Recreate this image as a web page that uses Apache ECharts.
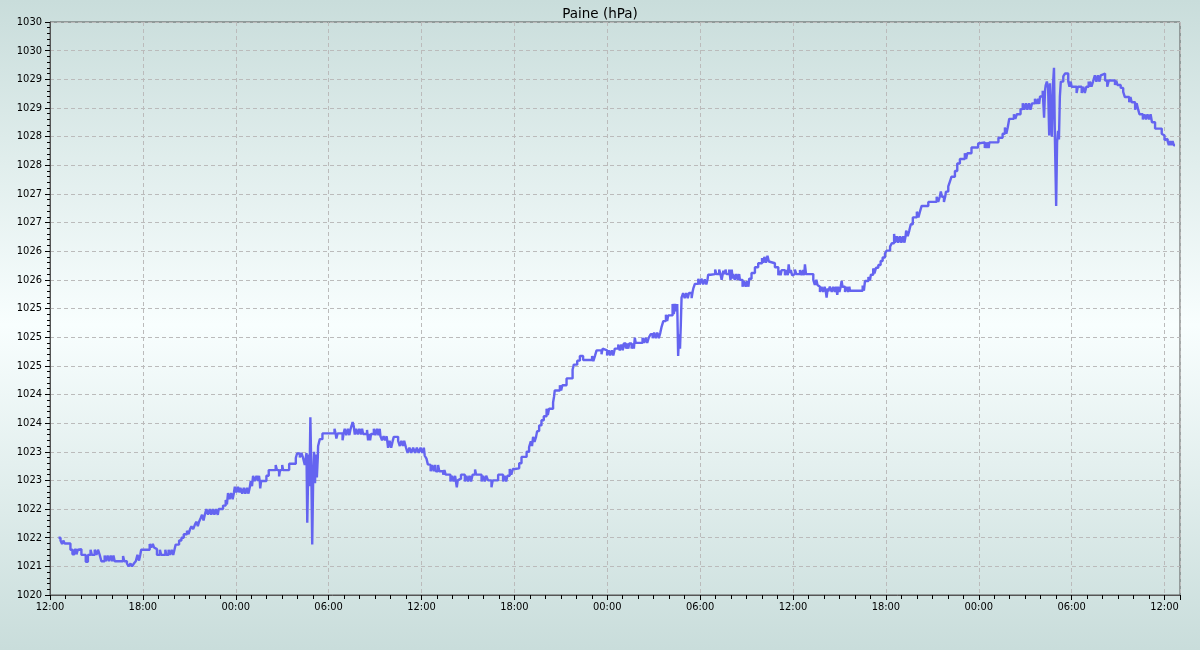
<!DOCTYPE html>
<html>
<head>
<meta charset="utf-8">
<script src="https://cdn.jsdelivr.net/npm/echarts@6/dist/echarts.min.js"></script>
<style>
html,body{margin:0;padding:0;}
#chart{width:1200px;height:650px;background:linear-gradient(to bottom,#c9dddb 0%,#f8fefe 50%,#c9dddb 100%);}
</style>
</head>
<body>
<div id="chart"></div>
<script>
// Tick labels as printed in the reference
const xTickLabels = ['12:00','18:00','00:00','06:00','12:00','18:00','00:00','06:00','12:00','18:00','00:00','06:00','12:00'];
const yTickLabels = ['1020','1021','1022','1022','1023','1023','1024','1024','1025','1025','1025','1026','1026','1027','1027','1028','1028','1029','1029','1030','1030'];

// Pressure readings: [hours since first 12:00, hPa]
const pressureReadings = [
[0.55,1021.00],[0.68,1020.95],[0.78,1020.89],[0.86,1020.95],[0.95,1020.90],
[1.32,1020.79],[1.45,1020.71],[1.58,1020.79],[1.71,1020.71],[1.80,1020.79],
[1.87,1020.80],
[2.03,1020.70],[2.31,1020.58],[2.45,1020.70],[2.62,1020.79],[2.70,1020.70],[2.89,1020.79],[3.00,1020.70],[3.10,1020.79],[3.21,1020.70],
[3.32,1020.59],[3.53,1020.69],[3.62,1020.59],[3.72,1020.69],[3.82,1020.59],[3.92,1020.69],[4.02,1020.59],[4.10,1020.69],[4.18,1020.59],[4.72,1020.68],[4.80,1020.59],
[4.97,1020.55],[5.08,1020.50],[5.20,1020.55],[5.30,1020.50],[5.42,1020.55],
[5.54,1020.59],[5.65,1020.70],[5.75,1020.60],[5.83,1020.70],
[5.89,1020.79],
[6.44,1020.89],[6.54,1020.83],[6.64,1020.89],[6.72,1020.83],
[6.77,1020.80],
[6.91,1020.70],[7.10,1020.79],[7.18,1020.70],[7.45,1020.79],[7.52,1020.70],[7.66,1020.79],[7.76,1020.70],[7.86,1020.79],[7.96,1020.70],[8.04,1020.79],
[8.12,1020.88],[8.34,1020.95],[8.49,1021.00],
[8.64,1021.06],[8.85,1021.12],[8.95,1021.06],[9.05,1021.15],[9.14,1021.20],[9.25,1021.15],[9.35,1021.22],[9.45,1021.28],[9.55,1021.20],[9.63,1021.28],[9.73,1021.34],[9.82,1021.40],[9.92,1021.30],[10.00,1021.40],
[10.10,1021.50],[10.21,1021.40],[10.32,1021.50],[10.42,1021.40],[10.52,1021.50],[10.62,1021.40],[10.72,1021.50],[10.84,1021.40],[10.90,1021.50],
[11.18,1021.56],[11.35,1021.66],[11.43,1021.58],
[11.50,1021.78],[11.60,1021.67],[11.70,1021.78],[11.80,1021.67],[11.88,1021.78],
[11.94,1021.89],[12.04,1021.79],[12.14,1021.89],[12.24,1021.79],
[12.30,1021.87],[12.42,1021.77],[12.52,1021.87],[12.62,1021.77],[12.72,1021.87],[12.82,1021.77],[12.90,1021.87],
[12.97,1021.99],[13.05,1021.90],[13.12,1022.08],[13.22,1021.99],[13.34,1022.08],[13.44,1021.99],[13.50,1022.08],
[13.55,1021.99],[13.58,1021.86],[13.64,1021.99],
[13.98,1022.08],
[14.13,1022.18],[14.58,1022.27],[14.66,1022.18],[14.80,1022.07],[14.86,1022.18],[15.00,1022.27],[15.06,1022.18],
[15.45,1022.29],[15.88,1022.39],[15.96,1022.47],
[16.14,1022.40],[16.24,1022.48],[16.34,1022.40],[16.46,1022.27],[16.57,1022.48],
[16.62,1021.26],[16.70,1022.45],[16.76,1021.90],[16.82,1023.10],[16.88,1022.20],[16.94,1020.88],[17.00,1022.00],[17.06,1022.50],[17.12,1021.95],[17.18,1022.45],[17.24,1022.05],[17.30,1022.40],
[17.32,1022.60],[17.43,1022.72],[17.60,1022.82],
[18.38,1022.90],[18.45,1022.82],[18.50,1022.73],[18.58,1022.82],
[18.90,1022.70],[18.97,1022.82],
[19.04,1022.90],[19.14,1022.79],[19.24,1022.90],[19.34,1022.79],[19.42,1022.90],
[19.48,1022.95],[19.55,1023.02],[19.62,1022.95],
[19.69,1022.80],[19.78,1022.90],[19.88,1022.80],[19.98,1022.90],[20.08,1022.80],[20.16,1022.90],
[20.23,1022.81],[20.48,1022.88],[20.55,1022.70],[20.61,1022.81],[20.68,1022.70],[20.74,1022.81],
[20.92,1022.90],[21.02,1022.79],[21.12,1022.90],[21.22,1022.79],[21.30,1022.90],
[21.35,1022.77],[21.45,1022.70],[21.55,1022.77],[21.65,1022.70],[21.75,1022.77],
[21.84,1022.57],[21.94,1022.69],[22.04,1022.57],[22.14,1022.69],
[22.21,1022.76],
[22.49,1022.69],[22.60,1022.60],[22.70,1022.69],[22.80,1022.60],[22.88,1022.69],
[23.00,1022.57],[23.10,1022.48],[23.22,1022.57],[23.34,1022.48],[23.46,1022.57],[23.58,1022.48],[23.70,1022.57],[23.82,1022.48],[23.94,1022.57],[24.05,1022.48],[24.15,1022.57],
[24.21,1022.43],[24.32,1022.38],[24.41,1022.28],
[24.49,1022.27],[24.59,1022.16],[24.69,1022.27],[24.79,1022.16],[24.88,1022.27],
[24.92,1022.16],[25.07,1022.27],[25.15,1022.16],
[25.40,1022.10],[25.48,1022.18],[25.56,1022.10],
[25.87,1021.98],[25.97,1022.08],[26.07,1021.98],[26.17,1022.08],[26.28,1021.88],[26.34,1022.00],
[26.37,1022.03],[26.55,1022.10],
[26.80,1021.98],[26.90,1022.08],[27.00,1021.98],[27.10,1022.08],[27.20,1021.98],
[27.30,1022.10],[27.46,1022.19],[27.53,1022.10],
[27.88,1021.98],[27.98,1022.08],[28.08,1021.98],[28.18,1022.08],
[28.30,1022.00],[28.52,1021.88],[28.60,1022.00],
[28.95,1022.10],
[29.27,1021.98],[29.37,1022.08],[29.47,1021.98],[29.55,1022.08],
[29.70,1022.20],[29.80,1022.10],[29.90,1022.20],
[30.03,1022.21],[30.31,1022.30],[30.46,1022.41],[30.79,1022.50],[30.95,1022.58],
[31.06,1022.68],[31.14,1022.60],
[31.21,1022.76],[31.30,1022.67],[31.40,1022.76],
[31.47,1022.86],[31.60,1022.96],[31.75,1023.05],[31.90,1023.12],
[32.08,1023.25],[32.16,1023.14],[32.24,1023.25],
[32.50,1023.36],[32.56,1023.46],[32.61,1023.57],
[32.94,1023.66],[33.02,1023.57],[33.10,1023.66],
[33.37,1023.78],[33.76,1023.93],[33.84,1024.02],[34.06,1024.09],[34.23,1024.17],[34.44,1024.10],
[35.02,1024.17],[35.10,1024.08],[35.20,1024.17],
[35.31,1024.27],[35.63,1024.20],[35.70,1024.30],[35.78,1024.27],
[35.99,1024.18],[36.09,1024.27],[36.19,1024.18],[36.29,1024.27],[36.39,1024.18],
[36.49,1024.30],
[36.71,1024.37],[36.81,1024.27],[36.91,1024.37],[37.00,1024.27],
[37.07,1024.39],[37.20,1024.30],[37.28,1024.39],[37.36,1024.30],[37.42,1024.39],
[37.57,1024.30],[37.66,1024.39],[37.72,1024.30],
[37.78,1024.49],[37.84,1024.40],
[38.28,1024.49],[38.38,1024.40],[38.48,1024.49],[38.58,1024.40],[38.68,1024.49],
[38.80,1024.55],
[38.93,1024.48],[39.03,1024.58],[39.13,1024.48],[39.23,1024.58],[39.33,1024.48],[39.43,1024.58],
[39.51,1024.68],[39.62,1024.78],[39.79,1024.89],[39.87,1024.78],[39.94,1024.88],
[40.22,1025.08],[40.30,1024.90],[40.38,1025.08],[40.46,1024.95],[40.52,1025.08],
[40.58,1024.17],[40.64,1024.55],[40.70,1024.30],[40.75,1024.70],
[40.80,1025.19],
[40.90,1025.27],[41.00,1025.18],[41.10,1025.27],[41.20,1025.18],[41.28,1025.27],
[41.45,1025.18],[41.52,1025.30],
[41.56,1025.35],[41.66,1025.43],
[41.88,1025.52],[41.98,1025.42],[42.08,1025.52],
[42.20,1025.42],[42.30,1025.51],[42.40,1025.42],[42.48,1025.51],
[42.52,1025.59],
[42.68,1025.60],[42.97,1025.68],[43.05,1025.60],[43.23,1025.68],[43.31,1025.60],
[43.39,1025.50],[43.50,1025.66],[43.60,1025.60],[43.64,1025.68],[43.70,1025.60],
[43.88,1025.68],[43.96,1025.50],[44.04,1025.68],[44.10,1025.52],
[44.14,1025.60],[44.24,1025.50],[44.34,1025.60],[44.44,1025.50],[44.52,1025.60],
[44.57,1025.50],
[44.74,1025.38],[44.84,1025.48],[44.94,1025.38],[45.04,1025.48],[45.12,1025.38],
[45.17,1025.52],[45.32,1025.62],[45.54,1025.72],[45.75,1025.79],[46.00,1025.88],
[46.07,1025.80],[46.15,1025.90],[46.25,1025.80],[46.35,1025.92],[46.44,1025.82],
[46.50,1025.79],[46.83,1025.72],
[47.05,1025.58],[47.13,1025.66],[47.20,1025.58],
[47.26,1025.67],
[47.48,1025.58],[47.58,1025.67],[47.66,1025.58],[47.72,1025.77],[47.78,1025.62],[47.86,1025.67],[47.94,1025.58],
[48.01,1025.60],[48.12,1025.68],[48.22,1025.60],
[48.45,1025.67],[48.55,1025.58],[48.65,1025.67],[48.72,1025.58],
[48.77,1025.77],[48.84,1025.60],
[49.31,1025.50],[49.41,1025.41],[49.51,1025.50],[49.58,1025.41],
[49.63,1025.38],[49.74,1025.29],[49.84,1025.38],[49.94,1025.29],[50.04,1025.38],[50.12,1025.29],
[50.17,1025.19],[50.24,1025.35],
[50.28,1025.30],[50.38,1025.38],
[50.50,1025.29],[50.60,1025.38],[50.70,1025.29],[50.78,1025.38],
[50.86,1025.24],[50.92,1025.38],[51.00,1025.29],[51.08,1025.38],
[51.14,1025.48],[51.20,1025.38],
[51.36,1025.29],[51.46,1025.38],[51.56,1025.29],[51.64,1025.38],
[51.68,1025.31],
[52.50,1025.40],[52.58,1025.31],
[52.65,1025.48],[52.87,1025.55],
[52.97,1025.49],[53.03,1025.59],
[53.18,1025.70],[53.26,1025.61],[53.36,1025.71],[53.51,1025.76],[53.66,1025.83],[53.79,1025.89],[53.94,1025.96],[54.05,1026.01],[54.27,1026.08],[54.38,1026.14],
[54.53,1026.30],[54.60,1026.15],[54.70,1026.26],[54.80,1026.15],[54.90,1026.26],[55.00,1026.15],[55.10,1026.26],[55.20,1026.15],[55.27,1026.26],
[55.31,1026.36],[55.41,1026.26],[55.51,1026.36],
[55.61,1026.47],[55.74,1026.59],
[56.00,1026.69],[56.10,1026.59],[56.20,1026.69],
[56.31,1026.79],[56.74,1026.86],
[57.28,1026.95],[57.38,1026.86],[57.48,1026.95],[57.55,1027.04],[57.62,1026.95],
[57.75,1026.86],[57.83,1026.95],
[57.88,1027.04],[58.03,1027.13],[58.14,1027.22],[58.24,1027.30],[58.46,1027.40],[58.61,1027.53],[58.78,1027.61],
[59.10,1027.71],[59.18,1027.61],[59.26,1027.71],
[59.53,1027.81],[59.96,1027.88],[60.07,1027.90],
[60.39,1027.80],[60.46,1027.90],[60.50,1027.80],[60.58,1027.90],[60.64,1027.80],
[60.68,1027.90],
[61.27,1027.98],
[61.54,1028.05],
[61.69,1028.16],[61.78,1028.05],[61.87,1028.16],
[61.97,1028.31],
[62.27,1028.39],[62.36,1028.31],[62.46,1028.39],
[62.70,1028.48],
[62.84,1028.58],[62.94,1028.47],[63.04,1028.58],[63.14,1028.47],[63.24,1028.58],[63.34,1028.47],[63.44,1028.58],
[63.63,1028.66],[63.73,1028.57],[63.83,1028.66],[63.90,1028.57],
[63.96,1028.70],[64.13,1028.80],
[64.22,1028.33],[64.28,1028.80],
[64.32,1028.89],[64.40,1028.96],[64.48,1028.85],
[64.55,1028.02],[64.60,1028.93],[64.72,1028.00],[64.80,1028.93],[64.86,1029.20],[64.92,1027.95],[65.00,1026.79],[65.06,1027.90],[65.12,1028.10],[65.18,1027.95],[65.24,1028.70],[65.30,1028.96],
[65.46,1029.05],[65.57,1029.10],
[65.78,1028.96],[65.86,1028.87],[65.94,1028.96],
[66.00,1028.87],[66.32,1028.76],[66.40,1028.87],
[66.65,1028.76],[66.75,1028.87],[66.85,1028.76],[66.95,1028.87],
[67.10,1028.96],[67.16,1028.87],
[67.18,1028.96],[67.28,1028.87],[67.38,1028.96],
[67.50,1029.07],[67.60,1028.96],[67.70,1029.07],[67.80,1028.96],[67.88,1029.07],
[67.94,1029.10],
[68.16,1028.98],[68.30,1028.87],[68.40,1028.98],
[68.80,1028.90],[68.88,1028.98],[68.96,1028.90],
[69.17,1028.85],[69.33,1028.78],[69.44,1028.69],
[69.72,1028.60],[69.80,1028.69],[69.88,1028.60],
[70.10,1028.47],[70.20,1028.58],[70.30,1028.47],
[70.38,1028.39],
[70.60,1028.30],[70.70,1028.39],[70.80,1028.30],[70.90,1028.39],[71.00,1028.30],[71.10,1028.39],
[71.19,1028.25],[71.39,1028.14],[71.82,1028.05],
[71.93,1028.02],[72.00,1027.94],
[72.10,1027.96],
[72.20,1027.92],[72.28,1027.85],[72.36,1027.92],[72.44,1027.85],[72.52,1027.92],[72.60,1027.85],[72.68,1027.85]
];

const labelFont = '"DejaVu Sans Condensed", "DejaVu Sans", sans-serif';
const chart = echarts.init(document.getElementById('chart'), null, {renderer: 'canvas'});
chart.setOption({
  animation: false,
  backgroundColor: 'transparent',
  title: {
    text: 'Paine (hPa)',
    left: 'center',
    top: 2,
    textStyle: {fontFamily: 'DejaVu Sans', fontSize: 13.5, fontWeight: 'normal', color: '#000'}
  },
  grid: {
    left: 50, right: 20, top: 22, bottom: 55,
    show: true, borderColor: '#555', borderWidth: 1, backgroundColor: 'transparent'
  },
  xAxis: {
    type: 'value', min: 0, max: 73, interval: 6,
    axisLine: {lineStyle: {color: '#555', width: 1}},
    axisTick: {show: true, length: 5, lineStyle: {color: '#000'}},
    minorTick: {show: true, splitNumber: 6, length: 4, lineStyle: {color: '#000'}},
    axisLabel: {
      fontFamily: labelFont, fontSize: 11, color: '#000', margin: 7,
      showMaxLabel: false,
      formatter: v => (Math.abs(v % 6) < 1e-6 ? xTickLabels[Math.round(v / 6)] : '')
    },
    splitLine: {show: true, lineStyle: {color: '#bbbbbb', type: [4, 3], width: 1}},
    minorSplitLine: {show: false}
  },
  yAxis: {
    type: 'value', min: 1020, max: 1030, interval: 0.5,
    axisLine: {show: true, lineStyle: {color: '#555', width: 1}},
    axisTick: {show: true, length: 5, lineStyle: {color: '#000'}},
    minorTick: {show: true, splitNumber: 5, length: 3, lineStyle: {color: '#000'}},
    axisLabel: {
      fontFamily: labelFont, fontSize: 11, color: '#000', margin: 8,
      formatter: v => yTickLabels[Math.round((v - 1020) / 0.5)]
    },
    splitLine: {show: true, lineStyle: {color: '#bbbbbb', type: [4, 3], width: 1}}
  },
  series: [{
    type: 'line',
    step: 'end',
    data: pressureReadings,
    showSymbol: false,
    symbol: 'none',
    lineStyle: {color: '#6464f0', width: 2.4},
    z: 5
  }]
});
</script>
</body>
</html>
